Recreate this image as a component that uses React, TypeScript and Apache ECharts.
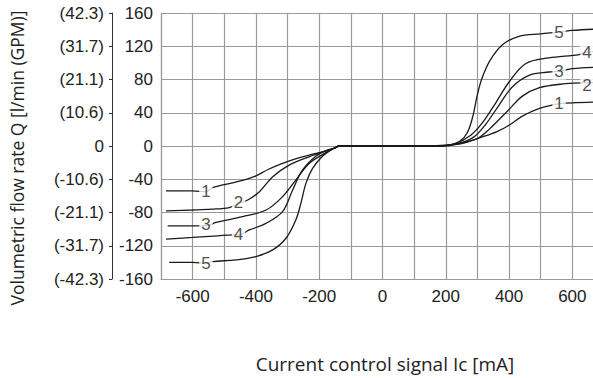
import React, { useEffect, useRef } from "react";
import * as echarts from "echarts";

// Current control signal Ic [mA] vs volumetric flow rate Q [l/min]
const curve1: [number, number][] = [[-684,-54],[-600,-54],[-558,-55],[-537,-50],[-470,-44],[-421,-39],[-400,-36],[-360,-28],[-316,-21],[-270,-15],[-232,-11],[-190,-7],[-155,-3],[-135,0],[0,0],[150,0],[200,1],[250,3],[316,11],[360,17],[400,25],[442,36],[494,45],[547,50],[558,51],[600,52],[700,53]];
const curve2: [number, number][] = [[-684,-78],[-600,-77],[-540,-76],[-484,-74],[-455,-69],[-426,-65],[-389,-55],[-347,-37],[-295,-23],[-232,-13],[-180,-6],[-155,-3],[-135,0],[0,0],[180,0],[240,3],[300,9],[337,20],[400,44],[442,60],[494,70],[579,75],[631,76],[646,76],[700,77]];
const curve3: [number, number][] = [[-679,-96],[-600,-96],[-558,-96],[-526,-92],[-442,-85],[-368,-77],[-316,-61],[-274,-41],[-232,-21],[-179,-8],[-155,-3],[-135,0],[0,0],[180,0],[240,3],[289,11],[326,26],[368,49],[410,71],[463,85],[526,89],[558,90],[600,93],[700,95]];
const curve4: [number, number][] = [[-684,-112],[-600,-110],[-520,-108],[-474,-107],[-455,-107],[-421,-101],[-368,-93],[-316,-79],[-284,-53],[-253,-29],[-210,-12],[-175,-5],[-155,-3],[-135,0],[0,0],[180,0],[230,3],[279,13],[316,28],[358,52],[400,77],[452,99],[526,106],[621,110],[646,113],[700,114]];
const curve5: [number, number][] = [[-674,-140],[-600,-140],[-558,-141],[-537,-139],[-463,-137],[-400,-133],[-347,-125],[-305,-111],[-274,-89],[-258,-69],[-242,-45],[-221,-27],[-189,-12],[-155,-3],[-135,0],[0,0],[175,0],[210,1],[245,6],[268,16],[285,35],[300,62],[315,82],[340,103],[380,122],[431,132],[500,135],[558,137],[600,139],[700,141]];
const curves = [curve1, curve2, curve3, curve4, curve5];

const curveNames = ["1", "2", "3", "4", "5"];
const leftLabelAt: [number, number][] = [[-558,-55],[-455,-68],[-558,-95],[-455,-107],[-558,-141]];
const rightLabelAt: [number, number][] = [[558,51],[646,73],[558,90],[646,113],[558,137]];

const flowTicks = [-160, -120, -80, -40, 0, 40, 80, 120, 160];
const gpmLabels = ["(-42.3)", "(-31.7)", "(-21.1)", "(-10.6)", "0", "(10.6)", "(21.1)", "(31.7)", "(42.3)"];

const yTitle = "Volumetric flow rate Q [l/min (GPM)]";
const xTitle = "Current control signal Ic [mA]";

const TICK_FONT = "'Liberation Sans', Arial, sans-serif";
const TITLE_FONT = "'Open Sans', 'Noto Sans', sans-serif";
const GRID_COLOR = "#9a9a9a";
const TEXT_COLOR = "#222";

export default function App() {
  const ref = useRef<HTMLDivElement>(null);
  useEffect(() => {
    if (!ref.current) return;
    const chart = echarts.init(ref.current, undefined, { renderer: "svg" });
    const labelData = [
      ...curveNames.map((n, i) => ({ name: n, value: leftLabelAt[i] })),
      ...curveNames.map((n, i) => ({ name: n, value: rightLabelAt[i] })),
    ];
    const gridLine = { show: true, lineStyle: { color: GRID_COLOR, width: 1.2, opacity: 1 } };
    chart.setOption({
      animation: false,
      backgroundColor: "#fff",
      grid: { left: 161, top: 13, width: 443, height: 266 },
      xAxis: {
        type: "value",
        min: -700,
        max: 700,
        interval: 100,
        axisLine: { show: true, onZero: false, lineStyle: { color: GRID_COLOR, width: 1.2 } },
        axisTick: { show: false },
        splitLine: gridLine,
        axisLabel: {
          margin: 9,
          fontFamily: TICK_FONT,
          fontSize: 17,
          color: TEXT_COLOR,
          formatter: (v: number) => (v % 200 === 0 && Math.abs(v) <= 600 ? String(v) : ""),
        },
      },
      yAxis: [
        {
          type: "value",
          min: -160,
          max: 160,
          interval: 40,
          position: "left",
          axisLine: { show: true, onZero: false, lineStyle: { color: GRID_COLOR, width: 1.2 } },
          axisTick: { show: false },
          splitLine: gridLine,
          axisLabel: { margin: 8, fontFamily: TICK_FONT, fontSize: 17, color: TEXT_COLOR },
        },
        {
          type: "value",
          min: -160,
          max: 160,
          interval: 40,
          position: "left",
          offset: 49,
          axisLine: { show: true, onZero: false, lineStyle: { color: "#333", width: 1 } },
          axisTick: { show: true, length: 3, lineStyle: { color: "#333" } },
          splitLine: { show: false },
          axisLabel: {
            margin: 8,
            fontFamily: TICK_FONT,
            fontSize: 17,
            color: TEXT_COLOR,
            formatter: (v: number) => {
              const i = flowTicks.indexOf(v);
              return i >= 0 ? gpmLabels[i] : "";
            },
          },
        },
      ],
      series: [
        ...curves.map((c, i) => ({
          type: "line",
          name: curveNames[i],
          data: c,
          smooth: 0.35,
          symbol: "none",
          lineStyle: { color: "#1a1a1a", width: 1.3 },
          z: 3,
        })),
        {
          type: "scatter",
          data: labelData,
          symbolSize: 1,
          itemStyle: { color: "transparent" },
          z: 5,
          label: {
            show: true,
            position: "inside",
            formatter: "{b}",
            fontFamily: TICK_FONT,
            fontSize: 17,
            color: TEXT_COLOR,
            backgroundColor: "#fff",
            padding: [0, 2],
          },
        },
      ],
      graphic: [
        {
          type: "text",
          x: 17,
          y: 158,
          rotation: Math.PI / 2,
          style: {
            text: yTitle,
            fontFamily: TITLE_FONT,
            fontSize: 17.5,
            fill: TEXT_COLOR,
            align: "center",
            verticalAlign: "middle",
          },
        },
        {
          type: "text",
          x: 385,
          y: 364,
          style: {
            text: xTitle,
            fontFamily: TITLE_FONT,
            fontSize: 19,
            fill: TEXT_COLOR,
            align: "center",
            verticalAlign: "middle",
          },
        },
      ],
    });
    return () => chart.dispose();
  }, []);
  return (
    <div style={{ position: "fixed", left: 0, top: 0, width: 593, height: 378, overflow: "hidden", background: "#fff" }}>
      <div ref={ref} style={{ width: 620, height: 378 }} />
    </div>
  );
}
